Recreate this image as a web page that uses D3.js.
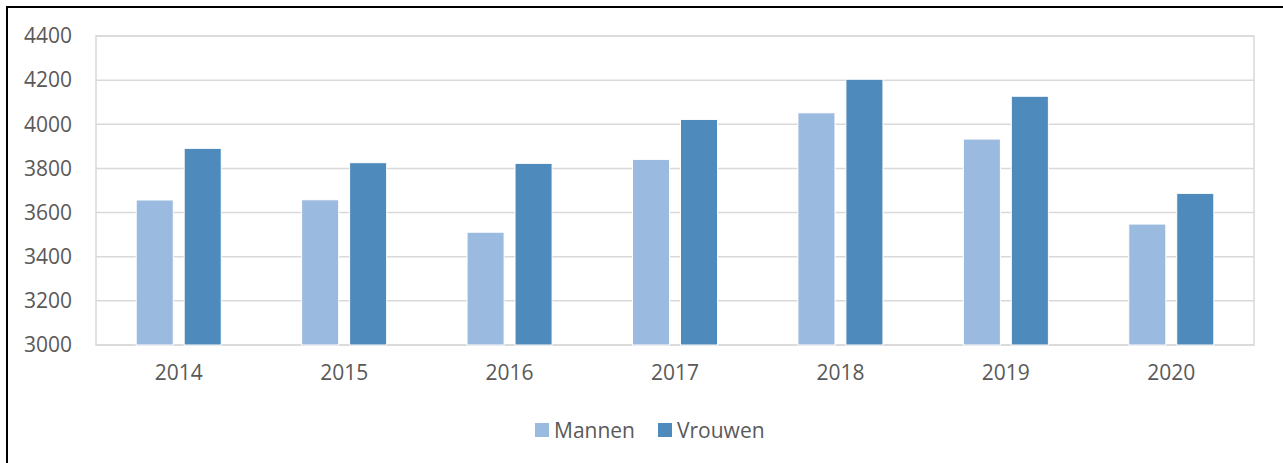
<!DOCTYPE html>
<html>
<head>
<meta charset="utf-8">
<script src="https://cdn.jsdelivr.net/npm/d3@7.9.0/dist/d3.min.js"></script>
<style>
  html, body { margin: 0; padding: 0; background: #fff; }
  svg { display: block; font-family: 'Open Sans', 'Liberation Sans', sans-serif; }
</style>
</head>
<body>
<script>
// ─── DATA ────────────────────────────────────────────────────────────────────
const years   = ['2014', '2015', '2016', '2017', '2018', '2019', '2020'];
const series  = ['Mannen', 'Vrouwen'];
const mannen  = [3657, 3658, 3511, 3841, 4052, 3933, 3548];
const vrouwen = [3891, 3826, 3823, 4022, 4204, 4127, 3687];
const yTicks  = [3000, 3200, 3400, 3600, 3800, 4000, 4200, 4400];

const values = { Mannen: mannen, Vrouwen: vrouwen };
const colors = { Mannen: '#9bbae0', Vrouwen: '#4f8abd' };

// ─── LAYOUT ──────────────────────────────────────────────────────────────────
const W = 1283, H = 463;
const plot = { left: 96, top: 36, right: 1254, bottom: 345 };
const textColor = '#595959';
const gridColor = '#d9d9d9';
const fontSize = '21px';

const svg = d3.select('body').append('svg')
  .attr('width', W).attr('height', H);

// outer frame (runs off the right and bottom edges)
svg.append('rect')
  .attr('x', 7).attr('y', 7)
  .attr('width', W + 10).attr('height', H + 10)
  .attr('fill', 'none')
  .attr('stroke', '#000')
  .attr('stroke-width', 2);

// ─── SCALES ──────────────────────────────────────────────────────────────────
const x = d3.scaleBand()
  .domain(years)
  .range([plot.left, plot.right])
  .paddingInner(0).paddingOuter(0);

const barW = x.bandwidth() * 0.224;
const gap  = x.bandwidth() * 0.066;

const y = d3.scaleLinear()
  .domain([3000, 4400])
  .range([plot.bottom, plot.top]);

// ─── GRID & FRAME ────────────────────────────────────────────────────────────
svg.append('g')
  .selectAll('line')
  .data(yTicks)
  .join('line')
    .attr('x1', plot.left).attr('x2', plot.right)
    .attr('y1', d => y(d)).attr('y2', d => y(d))
    .attr('stroke', gridColor)
    .attr('stroke-width', 1.5);

svg.append('rect')
  .attr('x', plot.left).attr('y', plot.top)
  .attr('width', plot.right - plot.left)
  .attr('height', plot.bottom - plot.top)
  .attr('fill', 'none')
  .attr('stroke', gridColor)
  .attr('stroke-width', 1.5);

// ─── AXES ────────────────────────────────────────────────────────────────────
const yAxis = svg.append('g')
  .attr('transform', `translate(${plot.left},0)`)
  .call(d3.axisLeft(y).tickValues(yTicks).tickSize(0).tickPadding(24).tickFormat(d3.format('d')))
  .attr('font-family', null)
  .attr('font-size', null);
yAxis.select('.domain').remove();
yAxis.selectAll('text')
  .attr('fill', textColor)
  .style('font-size', fontSize);

const xAxis = svg.append('g')
  .attr('transform', `translate(0,${plot.bottom})`)
  .call(d3.axisBottom(x).tickSize(0).tickPadding(20))
  .attr('font-family', null)
  .attr('font-size', null);
xAxis.select('.domain').remove();
xAxis.selectAll('text')
  .attr('fill', textColor)
  .style('font-size', fontSize);

// ─── BARS ────────────────────────────────────────────────────────────────────
series.forEach((s, si) => {
  svg.append('g')
    .selectAll('rect')
    .data(years.map((yr, i) => ({ yr, v: values[s][i] })))
    .join('rect')
      .attr('x', d => x(d.yr) + x.bandwidth() / 2 - gap / 2 - barW + si * (barW + gap))
      .attr('y', d => y(d.v))
      .attr('width', barW)
      .attr('height', d => y(3000) - y(d.v))
      .attr('fill', colors[s])
      .attr('stroke', '#fff')
      .attr('stroke-width', 1);
});

// ─── LEGEND ──────────────────────────────────────────────────────────────────
const legendX = [535, 658];
const legend = svg.append('g');
series.forEach((s, i) => {
  const row = legend.append('g')
    .attr('transform', `translate(${legendX[i]},423)`);
  row.append('rect')
    .attr('width', 14).attr('height', 14)
    .attr('fill', colors[s]);
  row.append('text')
    .attr('x', 19).attr('y', 15)
    .attr('fill', textColor)
    .style('font-size', fontSize)
    .text(s);
});
</script>
</body>
</html>
